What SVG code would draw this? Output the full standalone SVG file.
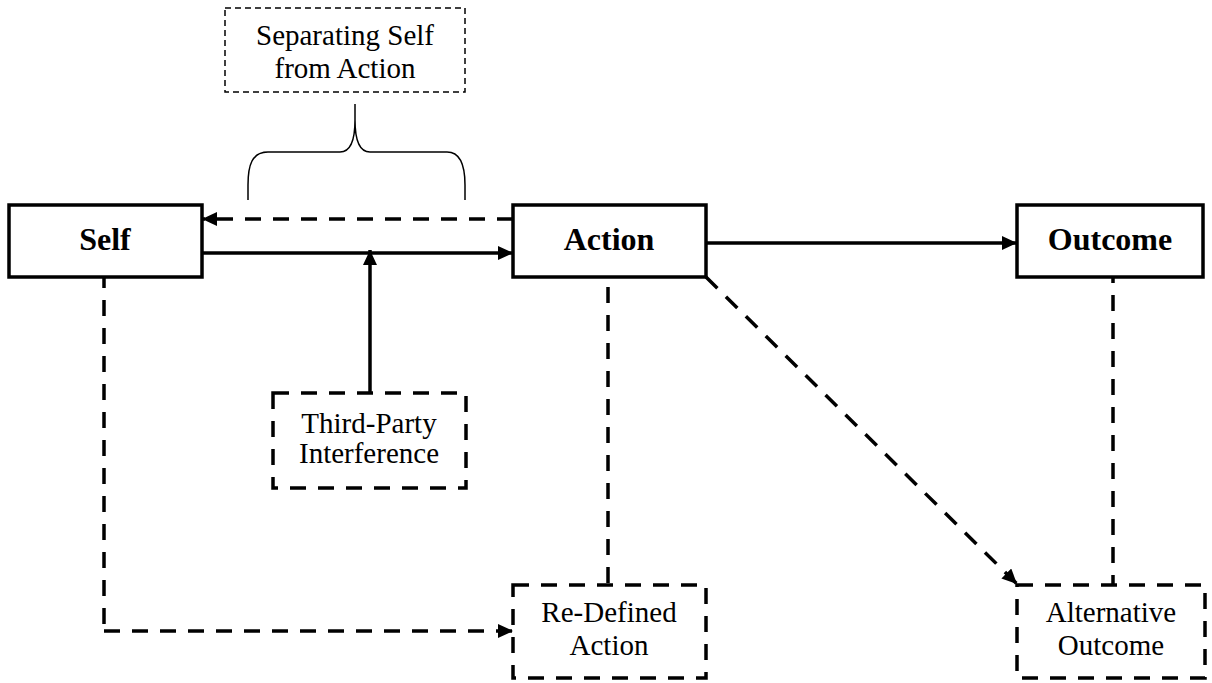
<svg xmlns="http://www.w3.org/2000/svg" width="1212" height="683" viewBox="0 0 1212 683">
<defs>
<marker id="ah" markerWidth="16" markerHeight="14" refX="15" refY="7" orient="auto" markerUnits="userSpaceOnUse">
<path d="M0,0 L15,7 L0,14 Z" fill="#000"/>
</marker>
<style>
.box{fill:#fff;stroke:#000;stroke-width:3.5}
.dbox{fill:#fff;stroke:#000;stroke-width:3.5;stroke-dasharray:16 12}
.tbox{fill:#fff;stroke:#000;stroke-width:1.5;stroke-dasharray:6 4}
.b{font-family:"Liberation Serif","Times New Roman",serif;font-weight:bold;font-size:32px;text-anchor:middle}
.r{font-family:"Liberation Serif","Times New Roman",serif;font-size:29px;text-anchor:middle}
.s{stroke:#000;stroke-width:3.5;fill:none}
.d{stroke:#000;stroke-width:3.5;fill:none;stroke-dasharray:16 12}
</style>
</defs>
<rect width="1212" height="683" fill="#fff"/>
<g id="connectors">
<line class="d" x1="104" y1="272" x2="104" y2="631"/>
<line class="d" x1="104" y1="631" x2="513" y2="631" marker-end="url(#ah)"/>
<line class="d" x1="608" y1="287" x2="608" y2="585"/>
<line class="d" x1="1113" y1="267" x2="1113" y2="585"/>
<line class="d" x1="706" y1="277" x2="1017" y2="584" marker-end="url(#ah)"/>
<line class="s" x1="202" y1="253" x2="513" y2="253" marker-end="url(#ah)"/>
<line class="d" x1="513" y1="219" x2="202" y2="219" marker-end="url(#ah)"/>
<line class="s" x1="706" y1="243" x2="1017" y2="243" marker-end="url(#ah)"/>
<line class="s" x1="370" y1="392" x2="370" y2="250" marker-end="url(#ah)"/>
<path d="M248,200 V185 C248,165 252,152 268,152 H340 C350,152 355,140 355,120 V104 M355,120 C355,140 360,152 370,152 H447 C460,152 465,165 465,185 V200" fill="none" stroke="#000" stroke-width="1.5"/>
</g>
<g id="self">
<rect class="box" x="9" y="205" width="193" height="72"/>
<text class="b" x="105" y="250">Self</text>
</g>
<g id="action">
<rect class="box" x="513" y="205" width="193" height="72"/>
<text class="b" x="609" y="250">Action</text>
</g>
<g id="outcome">
<rect class="box" x="1017" y="205" width="186" height="72"/>
<text class="b" x="1110" y="250">Outcome</text>
</g>
<g id="separating">
<rect class="tbox" x="225" y="8" width="240" height="84"/>
<text class="r" x="345" y="45">Separating Self</text>
<text class="r" x="345" y="78">from Action</text>
</g>
<g id="third-party">
<rect class="dbox" x="273" y="393" width="193" height="95"/>
<text class="r" x="369" y="433">Third-Party</text>
<text class="r" x="369" y="463">Interference</text>
</g>
<g id="redefined">
<rect class="dbox" x="513" y="585" width="193" height="93"/>
<text class="r" x="609" y="622">Re-Defined</text>
<text class="r" x="609" y="655">Action</text>
</g>
<g id="alternative">
<rect class="dbox" x="1017" y="585" width="188" height="93"/>
<text class="r" x="1111" y="622">Alternative</text>
<text class="r" x="1111" y="655">Outcome</text>
</g>
</svg>
